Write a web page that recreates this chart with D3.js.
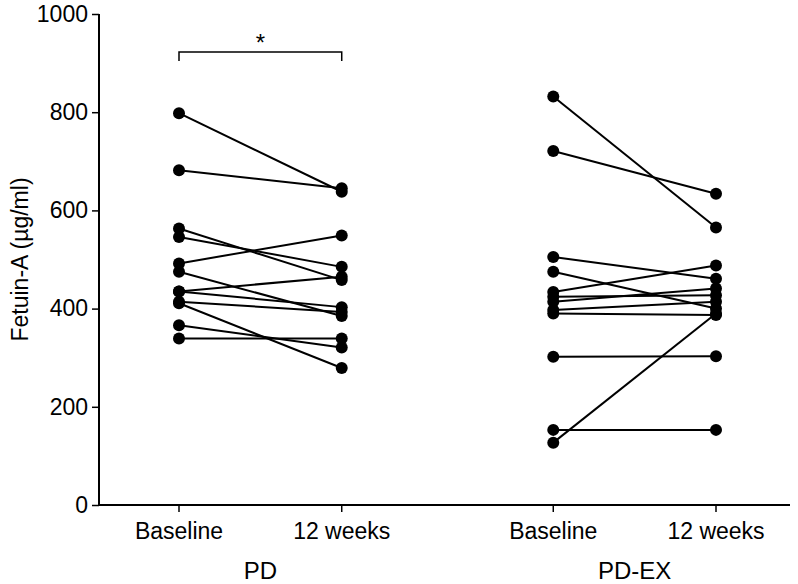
<!DOCTYPE html>
<html>
<head>
<meta charset="utf-8">
<script src="https://cdn.jsdelivr.net/npm/d3@7"></script>
<style>
  html, body { margin: 0; padding: 0; background: #fff; }
  svg { display: block; font-family: "Liberation Sans", Arial, Helvetica, sans-serif; }
</style>
</head>
<body>
<svg id="chart" width="798" height="584"></svg>
<script>
// ---- Data ----
const groups = ["PD", "PD-EX"];
const timepoints = ["Baseline", "12 weeks"];
const yTicks = [0, 200, 400, 600, 800, 1000];
const yLabel = "Fetuin-A (\u00b5g/ml)";

const pdBaseline   = [798, 682, 563, 546, 492, 475, 435, 435, 414, 411, 366, 339];
const pd12w        = [638, 645, 458, 485, 549, 385, 465, 403, 393, 279, 321, 339];
const pdexBaseline = [832, 721, 505, 475, 434, 424, 414, 397, 390, 302, 153, 127];
const pdex12w      = [565, 634, 461, 400, 488, 427, 441, 414, 387, 303, 153, 390];

const significance = "*";

// ---- Layout ----
const svg = d3.select("#chart");
const axisX = 99;
const groupGap = 1.3;

const catPos = (g, t) => g * (1 + groupGap) + t;
const x = d3.scaleLinear().domain([0, catPos(1, 1)]).range([179, 716]);
const y = d3.scaleLinear().domain([0, 1000]).range([505, 14]);

const ink = "#000";
const tickFont = 23;

// Y axis
const yAxis = d3.axisLeft(y).tickValues(yTicks).tickFormat(d3.format("d")).tickSize(7).tickPadding(4);
const gy = svg.append("g").attr("transform", `translate(${axisX},0)`).call(yAxis);
gy.select(".domain").attr("stroke", ink).attr("stroke-width", 2).attr("d", `M0,${y(1000)}V${y(0)}`);
gy.selectAll(".tick line").attr("stroke", ink).attr("stroke-width", 1.5);
gy.selectAll(".tick text").attr("font-size", tickFont).attr("fill", ink)
  .attr("font-family", "'Liberation Sans', Arial, sans-serif");

// X axis
const xTickVals = [];
groups.forEach((g, gi) => timepoints.forEach((t, ti) => xTickVals.push({ gi, ti, label: t })));
const gx = svg.append("g").attr("transform", `translate(0,${y(0)})`);
gx.append("line").attr("x1", axisX - 1).attr("x2", 790).attr("y1", 0).attr("y2", 0)
  .attr("stroke", ink).attr("stroke-width", 2);
gx.selectAll("line.tk").data(xTickVals).join("line").attr("class", "tk")
  .attr("x1", d => x(catPos(d.gi, d.ti))).attr("x2", d => x(catPos(d.gi, d.ti)))
  .attr("y1", 0).attr("y2", 7).attr("stroke", ink).attr("stroke-width", 1.5);
gx.selectAll("text.tl").data(xTickVals).join("text").attr("class", "tl")
  .attr("x", d => x(catPos(d.gi, d.ti))).attr("y", 34)
  .attr("text-anchor", "middle").attr("font-size", tickFont).attr("fill", ink)
  .text(d => d.label);
gx.selectAll("text.gl").data(groups).join("text").attr("class", "gl")
  .attr("x", (d, i) => (x(catPos(i, 0)) + x(catPos(i, 1))) / 2).attr("y", 74)
  .attr("text-anchor", "middle").attr("font-size", 24).attr("fill", ink)
  .text(d => d);

// Y label
svg.append("text")
  .attr("transform", `translate(28,${(y(0) + y(1000)) / 2}) rotate(-90)`)
  .attr("text-anchor", "middle").attr("font-size", 23).attr("fill", ink)
  .text(yLabel);

// Paired lines and points
const series = [
  { gi: 0, a: pdBaseline, b: pd12w },
  { gi: 1, a: pdexBaseline, b: pdex12w }
];
const plot = svg.append("g");
series.forEach(s => {
  const pairs = s.a.map((v, i) => [v, s.b[i]]);
  plot.append("g").selectAll("line").data(pairs).join("line")
    .attr("x1", x(catPos(s.gi, 0))).attr("x2", x(catPos(s.gi, 1)))
    .attr("y1", d => y(d[0])).attr("y2", d => y(d[1]))
    .attr("stroke", ink).attr("stroke-width", 2);
  plot.append("g").selectAll("circle").data(s.a).join("circle")
    .attr("cx", x(catPos(s.gi, 0))).attr("cy", d => y(d)).attr("r", 6).attr("fill", ink);
  plot.append("g").selectAll("circle").data(s.b).join("circle")
    .attr("cx", x(catPos(s.gi, 1))).attr("cy", d => y(d)).attr("r", 6).attr("fill", ink);
});

// Significance bracket (PD)
const bx1 = x(catPos(0, 0)), bx2 = x(catPos(0, 1)), by = 52;
svg.append("path")
  .attr("d", `M${bx1},${by + 9}V${by}H${bx2}V${by + 9}`)
  .attr("fill", "none").attr("stroke", ink).attr("stroke-width", 1.5);
svg.append("text").attr("x", (bx1 + bx2) / 2).attr("y", by - 1)
  .attr("text-anchor", "middle").attr("font-size", 24).attr("fill", ink)
  .text(significance);
</script>
</body>
</html>
